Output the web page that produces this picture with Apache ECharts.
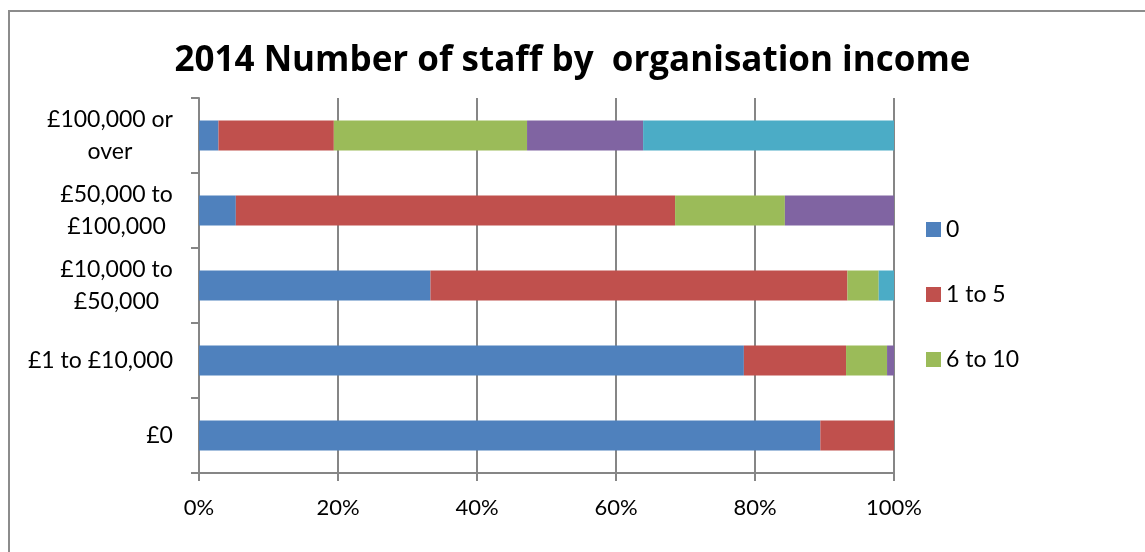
<!DOCTYPE html>
<html>
<head>
<meta charset="utf-8">
<script src="https://cdn.jsdelivr.net/npm/echarts@6/dist/echarts.min.js"></script>
<style>
  html, body { margin: 0; padding: 0; background: #ffffff; }
  #frame { position: absolute; left: 8px; top: 10px; width: 1145px; height: 560px; border: 2px solid #8c8c8c; box-sizing: border-box; }
  #chart { position: absolute; left: 0; top: 0; width: 1145px; height: 552px; }
</style>
</head>
<body>
<div id="frame"></div>
<div id="chart"></div>
<script>
// Income bands, listed bottom to top as drawn on the category axis
const categories = ['£0', '£1 to £10,000', '£10,000 to\n£50,000', '£50,000 to\n£100,000', '£100,000 or\nover'];

// Share of organisations (%) in each staff-size group, per income band
const staff0       = [89.4, 78.4, 33.3, 5.3, 2.8];
const staff1to5    = [10.6, 14.7, 60.0, 63.2, 16.6];
const staff6to10   = [0, 5.9, 4.5, 15.8, 27.8];
const staff11to20  = [0, 1.0, 0, 15.7, 16.7];
const staffOver20  = [0, 0, 2.2, 0, 36.1];

const xTicks = [0, 20, 40, 60, 80, 100];

const BODY_FONT = 'Lato';
const BODY_SIZE = 23;
const TITLE_FONT = '"Open Sans"';

const seriesDefs = [
  { name: '0',        data: staff0,      color: '#4f81bd' },
  { name: '1 to 5',   data: staff1to5,   color: '#c0504d' },
  { name: '6 to 10',  data: staff6to10,  color: '#9bbb59' },
  { name: '11 to 20', data: staff11to20, color: '#8064a2' },
  { name: 'Over 20',  data: staffOver20, color: '#4bacc6' }
];

// Category labels: each block sits right-aligned against the axis,
// with its wrapped lines centred inside the block.
const measureCtx = document.createElement('canvas').getContext('2d');
measureCtx.font = BODY_SIZE + 'px ' + BODY_FONT;
const labelRich = {};
categories.forEach((c, i) => {
  const w = Math.max.apply(null, c.split('\n').map(l => measureCtx.measureText(l).width));
  labelRich['r' + i] = {
    width: Math.ceil(w), align: 'center', lineHeight: 32,
    fontFamily: BODY_FONT, fontSize: BODY_SIZE, color: '#000000'
  };
});

const chart = echarts.init(document.getElementById('chart'), null, { renderer: 'canvas' });

chart.setOption({
  backgroundColor: 'transparent',
  animation: false,
  title: {
    text: '2014 Number of staff by  organisation income',
    left: 'center',
    top: 39,
    textStyle: { fontFamily: TITLE_FONT, fontWeight: 'bold', fontSize: 35, color: '#000000' }
  },
  legend: {
    orient: 'vertical',
    left: 926,
    top: 218,
    padding: 0,
    data: ['0', '1 to 5', '6 to 10'],
    icon: 'rect',
    itemWidth: 15,
    itemHeight: 15,
    itemGap: 42,
    textStyle: { fontFamily: BODY_FONT, fontSize: BODY_SIZE, color: '#000000' }
  },
  grid: { left: 199, right: 251, top: 98, bottom: 79, containLabel: false },
  xAxis: {
    type: 'value',
    min: xTicks[0],
    max: xTicks[xTicks.length - 1],
    interval: xTicks[1] - xTicks[0],
    axisLine: { show: true, lineStyle: { color: '#868686', width: 2 } },
    axisTick: { show: true, length: 8, lineStyle: { color: '#868686', width: 2 } },
    axisLabel: { formatter: '{value}%', fontFamily: BODY_FONT, fontSize: 22, color: '#000000', margin: 24 },
    splitLine: { show: true, lineStyle: { color: '#868686', width: 2 } }
  },
  yAxis: {
    type: 'category',
    data: categories,
    axisLine: { show: true, lineStyle: { color: '#868686', width: 2 } },
    axisTick: { show: true, length: 8, lineStyle: { color: '#868686', width: 2 } },
    axisLabel: {
      margin: 26,
      align: 'right',
      formatter: (value, index) => value.split('\n').map(l => '{r' + index + '|' + l + '}').join('\n'),
      rich: labelRich
    }
  },
  series: seriesDefs.map(s => ({
    name: s.name,
    type: 'bar',
    stack: 'total',
    data: s.data,
    barWidth: 30,
    itemStyle: { color: s.color },
    emphasis: { disabled: true }
  }))
});
</script>
</body>
</html>
